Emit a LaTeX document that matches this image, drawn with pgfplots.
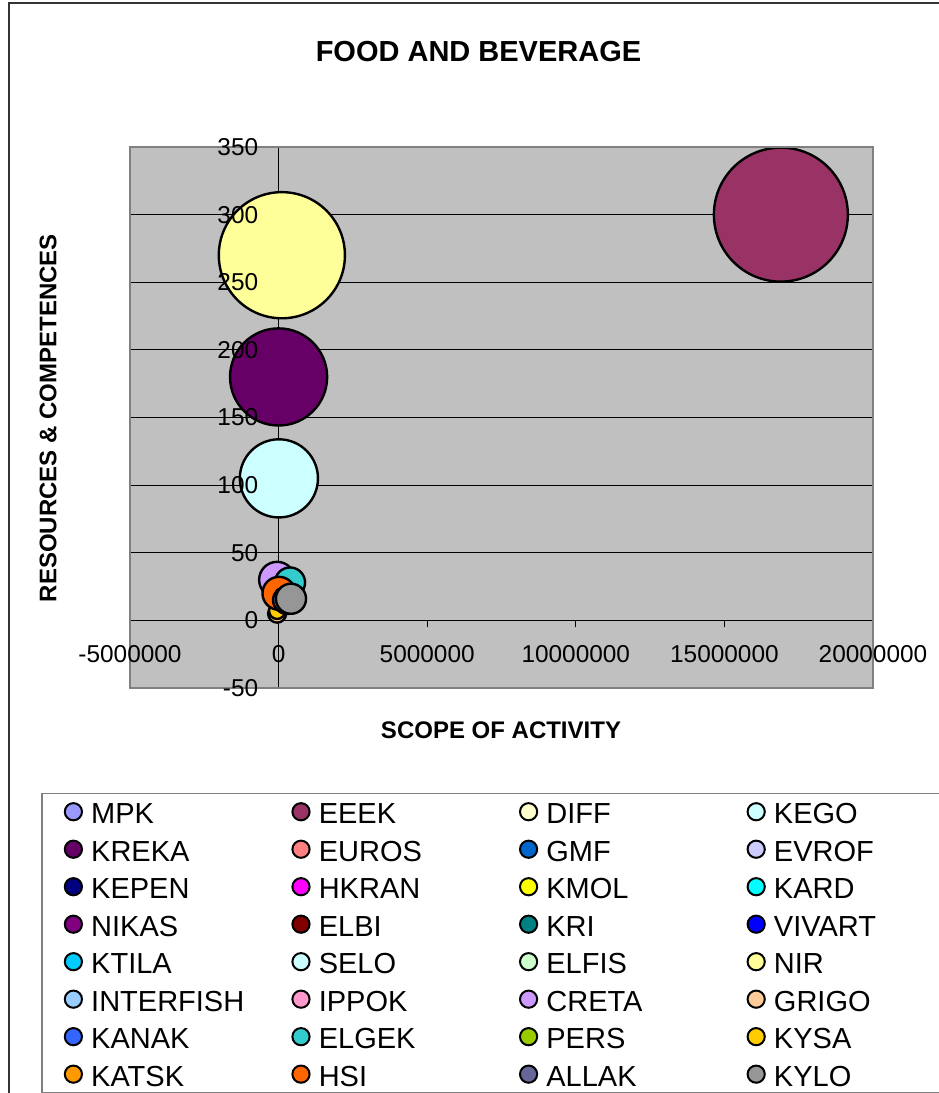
\documentclass[border=0pt]{standalone}
\usepackage{pgfplots}
\pgfplotsset{compat=1.18}
\usepackage{fontspec}
\setmainfont{Liberation Sans}
\definecolor{plotbg}{HTML}{C0C0C0}
\definecolor{cMPK}{HTML}{9999FF}
\definecolor{cEEEK}{HTML}{993366}
\definecolor{cDIFF}{HTML}{FFFFCC}
\definecolor{cKEGO}{HTML}{CCFFFF}
\definecolor{cKREKA}{HTML}{660066}
\definecolor{cEUROS}{HTML}{FF8080}
\definecolor{cGMF}{HTML}{0066CC}
\definecolor{cEVROF}{HTML}{CCCCFF}
\definecolor{cKEPEN}{HTML}{000080}
\definecolor{cHKRAN}{HTML}{FF00FF}
\definecolor{cKMOL}{HTML}{FFFF00}
\definecolor{cKARD}{HTML}{00FFFF}
\definecolor{cNIKAS}{HTML}{800080}
\definecolor{cELBI}{HTML}{800000}
\definecolor{cKRI}{HTML}{008080}
\definecolor{cVIVART}{HTML}{0000FF}
\definecolor{cKTILA}{HTML}{00CCFF}
\definecolor{cSELO}{HTML}{CCFFFF}
\definecolor{cELFIS}{HTML}{CCFFCC}
\definecolor{cNIR}{HTML}{FFFF99}
\definecolor{cINTERFISH}{HTML}{99CCFF}
\definecolor{cIPPOK}{HTML}{FF99CC}
\definecolor{cCRETA}{HTML}{CC99FF}
\definecolor{cGRIGO}{HTML}{FFCC99}
\definecolor{cKANAK}{HTML}{3366FF}
\definecolor{cELGEK}{HTML}{33CCCC}
\definecolor{cPERS}{HTML}{99CC00}
\definecolor{cKYSA}{HTML}{FFCC00}
\definecolor{cKATSK}{HTML}{FF9900}
\definecolor{cHSI}{HTML}{FF6600}
\definecolor{cALLAK}{HTML}{666699}
\definecolor{cKYLO}{HTML}{969696}
\pgfplotsset{
  layers/mylayers/.define layer set={axis background,axis grid,axis ticks,axis lines,main,axis tick labels,axis descriptions,axis foreground}{
    grid style={/pgfplots/on layer=axis grid},
    tick style={/pgfplots/on layer=axis ticks},
    axis line style={/pgfplots/on layer=axis lines},
    label style={/pgfplots/on layer=axis descriptions},
    legend style={/pgfplots/on layer=axis descriptions},
    title style={/pgfplots/on layer=axis descriptions},
    ticklabel style={/pgfplots/on layer=axis tick labels},
    axis background@ style={/pgfplots/on layer=axis background},
    3d box foreground style={/pgfplots/on layer=axis foreground},
  },
  bub/.style={only marks, scatter, mark=*, line width=1.2bp,
    scatter/use mapped color={draw=black, fill=#1},
    visualization depends on={3.4128*sqrt(\thisrow{s})\as\rad},
    scatter/@pre marker code/.append style={/tikz/mark size=\rad},
    legend image code/.code={\draw[black, line width=1bp, fill=#1] (0bp,0bp) circle (4.3bp);}},
}
\newcommand\lgt[1]{\makebox[100.1bp][l]{\rule[-5bp]{0pt}{18.75bp}#1}}
\begin{document}
\begin{tikzpicture}
\draw[black!80, line width=0.6bp] (4.5bp,-1.5bp) rectangle (600bp,-700bp);
\node[font=\bfseries\fontsize{14.5bp}{16bp}\selectfont, inner sep=0pt] at (239.25bp,-26bp) {FOOD AND BEVERAGE};
\node[font=\bfseries\fontsize{12bp}{14bp}\selectfont, inner sep=0pt] at (250.5bp,-365bp) {SCOPE OF ACTIVITY};
\node[font=\bfseries\fontsize{12bp}{14bp}\selectfont, inner sep=0pt, rotate=90] at (24bp,-209bp) {RESOURCES \& COMPETENCES};
\begin{axis}[
  set layers=mylayers,
  at={(65bp,-344bp)}, anchor=south west,
  scale only axis, width=371.5bp, height=270.5bp,
  xmin=-5000000, xmax=20000000, ymin=-50, ymax=350,
  point meta min=-100, point meta max=400,
  axis lines=middle,
  axis line style={-, black, line width=0.6bp},
  axis background/.style={fill=plotbg},
  scaled x ticks=false, scaled y ticks=false,
  xtick={-5000000,0,5000000,10000000,15000000,20000000},
  xticklabels={-5000000,0,5000000,10000000,15000000,20000000},
  ytick={-50,0,50,100,150,200,250,300,350},
  yticklabels={-50,0,50,100,150,200,250,300,350},
  hide obscured x ticks=false, hide obscured y ticks=false,
  tick align=outside, major tick length=3.5bp,
  tick style={black, line width=0.6bp},
  ymajorgrids, grid style={black, line width=0.6bp},
  ticklabel style={font=\fontsize{12.2bp}{14bp}\selectfont},
  yticklabel style={anchor=east, inner sep=0pt, xshift=-6.5bp},
  xticklabel style={anchor=north, inner sep=0pt, yshift=-9bp},
  clip=false,
  after end axis/.code={\draw[color=gray, line width=1bp] (rel axis cs:0,0) rectangle (rel axis cs:1,1);},
  legend columns=4,
  legend cell align=left,
  legend style={at={(-0.1198,-0.1935)}, anchor=north west, draw=gray, line width=0.8bp,
     inner xsep=11bp, inner ysep=1.5bp, row sep=3.5bp,
     font=\fontsize{14.5bp}{16bp}\selectfont,
     nodes={inner sep=0pt},
     /tikz/every odd column/.append style={column sep=4.1bp},
     /tikz/every even column/.append style={column sep=0pt}},
]
\addplot[bub=cMPK] table[row sep=\\] {x y s\\ 50000 18 1.0\\};
\addlegendentry{\lgt{MPK}}
\addplot[bub=cEEEK] table[row sep=\\] {x y s\\ 16900000 300 97\\};
\addlegendentry{\lgt{EEEK}}
\addplot[bub=cDIFF] table[row sep=\\] {x y s\\ 80000 22 1.2\\};
\addlegendentry{\lgt{DIFF}}
\addplot[bub=cKEGO] table[row sep=\\] {x y s\\ 10000 105 33\\};
\addlegendentry{\lgt{KEGO}}
\addplot[bub=cKREKA] table[row sep=\\] {x y s\\ 0 180 51\\};
\addlegendentry{\lgt{KREKA}}
\addplot[bub=cEUROS] table[row sep=\\] {x y s\\ 30000 15 0.8\\};
\addlegendentry{\lgt{EUROS}}
\addplot[bub=cGMF] table[row sep=\\] {x y s\\ 60000 20 0.9\\};
\addlegendentry{\lgt{GMF}}
\addplot[bub=cEVROF] table[row sep=\\] {x y s\\ 40000 24 1.1\\};
\addlegendentry{\lgt{EVROF}}
\addplot[bub=cKEPEN] table[row sep=\\] {x y s\\ 20000 17 0.7\\};
\addlegendentry{\lgt{KEPEN}}
\addplot[bub=cHKRAN] table[row sep=\\] {x y s\\ 70000 19 0.6\\};
\addlegendentry{\lgt{HKRAN}}
\addplot[bub=cKMOL] table[row sep=\\] {x y s\\ 10000 10 0.9\\};
\addlegendentry{\lgt{KMOL}}
\addplot[bub=cKARD] table[row sep=\\] {x y s\\ 90000 25 1.0\\};
\addlegendentry{\lgt{KARD}}
\addplot[bub=cNIKAS] table[row sep=\\] {x y s\\ 50000 21 1.3\\};
\addlegendentry{\lgt{NIKAS}}
\addplot[bub=cELBI] table[row sep=\\] {x y s\\ 30000 16 0.8\\};
\addlegendentry{\lgt{ELBI}}
\addplot[bub=cKRI] table[row sep=\\] {x y s\\ 100000 23 0.9\\};
\addlegendentry{\lgt{KRI}}
\addplot[bub=cVIVART] table[row sep=\\] {x y s\\ 60000 14 0.7\\};
\addlegendentry{\lgt{VIVART}}
\addplot[bub=cKTILA] table[row sep=\\] {x y s\\ 40000 20 1.0\\};
\addlegendentry{\lgt{KTILA}}
\addplot[bub=cSELO] table[row sep=\\] {x y s\\ 70000 26 1.2\\};
\addlegendentry{\lgt{SELO}}
\addplot[bub=cELFIS] table[row sep=\\] {x y s\\ 20000 22 0.8\\};
\addlegendentry{\lgt{ELFIS}}
\addplot[bub=cNIR] table[row sep=\\] {x y s\\ 110000 270 86\\};
\addlegendentry{\lgt{NIR}}
\addplot[bub=cINTERFISH] table[row sep=\\] {x y s\\ 50000 18 1.4\\};
\addlegendentry{\lgt{INTERFISH}}
\addplot[bub=cIPPOK] table[row sep=\\] {x y s\\ 80000 15 0.9\\};
\addlegendentry{\lgt{IPPOK}}
\addplot[bub=cCRETA] table[row sep=\\] {x y s\\ -50000 30 7.0\\};
\addlegendentry{\lgt{CRETA}}
\addplot[bub=cGRIGO] table[row sep=\\] {x y s\\ -50000 5 1.75\\};
\addlegendentry{\lgt{GRIGO}}
\addplot[bub=cKANAK] table[row sep=\\] {x y s\\ 150000 18 1.5\\};
\addlegendentry{\lgt{KANAK}}
\addplot[bub=cELGEK] table[row sep=\\] {x y s\\ 384000 28 4.9\\};
\addlegendentry{\lgt{ELGEK}}
\addplot[bub=cPERS] table[row sep=\\] {x y s\\ 100000 14 1.0\\};
\addlegendentry{\lgt{PERS}}
\addplot[bub=cKYSA] table[row sep=\\] {x y s\\ -50000 7 1.4\\};
\addlegendentry{\lgt{KYSA}}
\addplot[bub=cKATSK] table[row sep=\\] {x y s\\ 60000 21 2.0\\};
\addlegendentry{\lgt{KATSK}}
\addplot[bub=cHSI] table[row sep=\\] {x y s\\ 13000 20 5.9\\};
\addlegendentry{\lgt{HSI}}
\addplot[bub=cALLAK] table[row sep=\\] {x y s\\ 283000 15 4.2\\};
\addlegendentry{\lgt{ALLAK}}
\addplot[bub=cKYLO] table[row sep=\\] {x y s\\ 417000 16 4.9\\};
\addlegendentry{\lgt{KYLO}}
\end{axis}
\pgfresetboundingbox
\path[use as bounding box] (0bp,0bp) rectangle (469.5bp,-546.5bp);
\end{tikzpicture}
\end{document}
